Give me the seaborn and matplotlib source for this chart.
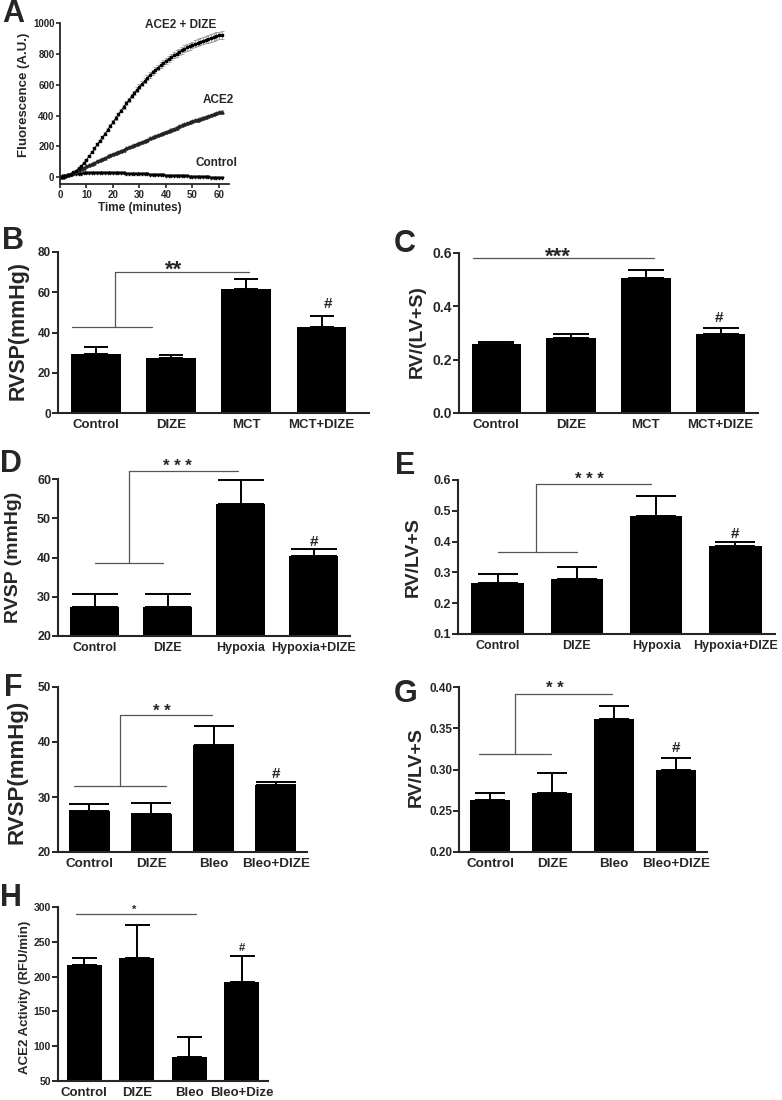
import numpy as np
import seaborn as sns
import matplotlib
matplotlib.use("Agg")
import matplotlib.pyplot as plt

sns.set_style("ticks")
plt.rcParams['font.family'] = ['Liberation Sans', 'DejaVu Sans']
plt.rcParams['font.weight'] = 'bold'

# ---- data: panel A, fluorescence kinetics ----
minutes = list(range(62))
ace2_dize = [0, 2, 6, 12, 20, 30, 42, 56, 72, 92, 114, 137, 161, 186, 212, 235,
             258, 283, 308, 333, 358, 383, 408, 432, 456, 480, 503, 526, 548, 569,
             589, 608, 627, 646, 664, 681, 697, 712, 727, 741, 755, 768, 780, 792,
             803, 814, 824, 834, 843, 851, 859, 866, 873, 880, 887, 893, 899, 905,
             911, 916, 921, 926]
ace2_dize_err = [0, 1, 1, 2, 2, 3, 3, 4, 4, 5, 5, 6, 6, 7, 7, 8, 8, 9, 9, 10, 10,
                 11, 11, 12, 12, 13, 13, 14, 14, 15, 15, 16, 16, 17, 17, 18, 18, 18,
                 19, 19, 19, 20, 20, 20, 21, 21, 21, 22, 22, 22, 22, 23, 23, 23, 23,
                 24, 24, 24, 25, 25, 25, 25]
ace2 = [0, 3, 7, 13, 20, 28, 36, 44, 52, 61, 70, 78, 86, 94, 102, 110, 118, 126,
        134, 142, 150, 157, 165, 172, 179, 186, 193, 200, 208, 215, 222, 229, 237,
        244, 251, 258, 266, 273, 280, 288, 295, 302, 309, 315, 322, 329, 336, 342,
        349, 355, 362, 368, 374, 380, 386, 392, 397, 403, 409, 414, 420, 425]
ace2_err = [0, 1, 1, 2, 2, 2, 3, 3, 3, 3, 4, 4, 4, 4, 4, 5, 5, 5, 5, 5, 5, 5, 5,
            6, 6, 6, 6, 6, 6, 6, 6, 6, 6, 6, 7, 7, 7, 7, 7, 7, 7, 7, 7, 7, 7, 7,
            7, 7, 8, 8, 8, 8, 8, 8, 8, 8, 8, 8, 8, 8, 8, 8]
control_curve = [0, 4, 8, 12, 15, 18, 20, 22, 23, 24, 25, 26, 26, 27, 27, 27, 27,
                 26, 26, 26, 25, 25, 25, 24, 24, 23, 22, 22, 21, 20, 19, 18, 18, 17,
                 16, 15, 14, 13, 12, 11, 10, 9, 8, 8, 7, 6, 5, 5, 4, 3, 3, 2, 1, 0,
                 0, -1, -2, -3, -3, -4, -5, -6]
control_err = [2] * 62

# ---- data: bar panels ----
mct_groups = ["Control", "DIZE", "MCT", "MCT+DIZE"]
mct_rvsp = [29.5, 27.5, 61.6, 42.7]
mct_rvsp_err = [3.3, 1.3, 5.1, 5.6]
mct_rv = [0.257, 0.280, 0.505, 0.296]
mct_rv_err = [0.010, 0.0175, 0.032, 0.024]

hyp_groups = ["Control", "DIZE", "Hypoxia", "Hypoxia+DIZE"]
hyp_rvsp = [27.4, 27.4, 53.6, 40.4]
hyp_rvsp_err = [3.4, 3.2, 6.2, 1.8]
hyp_rv = [0.265, 0.278, 0.484, 0.385]
hyp_rv_err = [0.029, 0.039, 0.063, 0.015]

bleo_groups = ["Control", "DIZE", "Bleo", "Bleo+DIZE"]
bleo_rvsp = [27.5, 27.0, 39.5, 32.1]
bleo_rvsp_err = [1.2, 1.9, 3.4, 0.7]
bleo_rv = [0.2625, 0.272, 0.361, 0.300]
bleo_rv_err = [0.0095, 0.024, 0.016, 0.014]

act_groups = ["Control", "DIZE", "Bleo", "Bleo+Dize"]
ace2_activity = [216.8, 226.9, 84.5, 192.0]
ace2_activity_err = [10.1, 47.3, 28.7, 37.3]

W, H = 782, 1100
fig = plt.figure(figsize=(W / 100, H / 100), dpi=100)


def add_ax(left, top, right, bottom):
    # pixel box -> figure fraction
    return fig.add_axes([left / W, 1 - bottom / H, (right - left) / W, (bottom - top) / H])


def ftext(x, y, s, **kw):
    fig.text(x / W, 1 - y / H, s, **kw)


def style_axes(ax, lw=1.5):
    sns.despine(ax=ax)
    for side in ("left", "bottom"):
        ax.spines[side].set_linewidth(lw)


def bar_panel(box, groups, vals, errs, ylim, yticks, ytick_fmt, tick_fs, cap,
              xmax=3.5, cat_fs=9.5, cat_pad=4):
    ax = add_ax(*box)
    sns.barplot(x=groups, y=vals, color="black", saturation=1, width=0.66,
                errorbar=None, linewidth=0, ax=ax)
    ax.errorbar(range(len(groups)), vals, yerr=[np.zeros(len(errs)), errs],
                fmt="none", ecolor="black", elinewidth=1.4, capsize=cap, capthick=1.4)
    ax.set_xlim(-0.5, xmax)
    ax.set_ylim(*ylim)
    ax.set_yticks(yticks)
    ax.set_yticklabels([ytick_fmt.format(v) for v in yticks])
    ax.tick_params(axis="y", length=4, width=1.4, labelsize=tick_fs, pad=1)
    ax.tick_params(axis="x", length=0, labelsize=cat_fs, pad=cat_pad)
    ax.set_xlabel("")
    ax.set_ylabel("")
    style_axes(ax)
    return ax


def sig(ax, segs, stars, sx, sy, s_fs, s_dy, hx, hy, h_fs=11):
    for (x0, x1, y0, y1) in segs:
        ax.plot([x0, x1], [y0, y1], color="#555555", lw=0.9, clip_on=False)
    ax.annotate(stars, (sx, sy), xytext=(0, s_dy + 2), textcoords="offset points",
                ha="center", va="baseline", fontsize=s_fs, annotation_clip=False)
    ax.text(hx, hy, "#", ha="center", va="baseline", fontsize=h_fs, clip_on=False)


# ---- panel A ----
axA = add_ax(60, 23.3, 229, 184)
axA.errorbar(minutes, control_curve, yerr=control_err, fmt="-v", ms=2, lw=0.6,
             color="black", ecolor="#999999", elinewidth=0.5, capsize=1, capthick=0.5)
axA.errorbar(minutes, ace2, yerr=ace2_err, fmt="-^", ms=2.2, lw=0.7, color="black",
             mfc="#333333", mec="#222222", ecolor="#aaaaaa", elinewidth=0.5,
             capsize=1.2, capthick=0.5)
axA.errorbar(minutes, ace2_dize, yerr=ace2_dize_err, fmt="-s", ms=1.8, lw=0.6,
             color="black", ecolor="#888888", elinewidth=0.5, capsize=1.5, capthick=0.5)
axA.set_xlim(0, 63.8)
axA.set_ylim(-45, 1000)
axA.set_xticks(range(0, 61, 10))
axA.set_yticks(range(0, 1001, 200))
axA.tick_params(length=3, width=1.2, labelsize=7, pad=1)
style_axes(axA, 1.3)
axA.text(45.7, 990, "ACE2 + DIZE", ha="center", va="center", fontsize=8.5, clip_on=False)
axA.text(59.6, 499, "ACE2", ha="center", va="center", fontsize=8.5)
axA.text(58.9, 89, "Control", ha="center", va="center", fontsize=8.5)
ftext(140, 208, "Time (minutes)", ha="center", va="center", fontsize=8.5)
ftext(24, 95, "Fluorescence (A.U.)", rotation=90, ha="center", va="center", fontsize=9.5)

# ---- panel B ----
axB = bar_panel((58, 252, 369, 413), mct_groups, mct_rvsp, mct_rvsp_err, (0, 80),
                [0, 20, 40, 60, 80], "{:.0f}", 8.5, 8.3, xmax=3.63)
sig(axB, [(0.26, 2.03, 70, 70), (0.26, 0.26, 70, 42.5), (-0.31, 0.75, 42.5, 42.5)],
    "**", 1.03, 70, 16, -4.4, 3.08, 52.0)
ftext(18, 330, "RVSP(mmHg)", rotation=90, ha="center", va="center", fontsize=15.5)

# ---- panel C ----
axC = bar_panel((459, 253, 758, 413), mct_groups, mct_rv, mct_rv_err, (0, 0.6),
                [0, 0.2, 0.4, 0.6], "{:.1f}", 10, 13)
sig(axC, [(-0.31, 2.11, 0.58, 0.58)], "***", 0.83, 0.58, 16, -5.0, 2.98, 0.342)
ftext(417, 332, "RV/(LV+S)", rotation=90, ha="center", va="center", fontsize=14)

# ---- panel D ----
axD = bar_panel((58, 479, 350, 636), hyp_groups, hyp_rvsp, hyp_rvsp_err, (20, 60),
                [20, 30, 40, 50, 60], "{:.0f}", 9, 16.5, cat_fs=9)
sig(axD, [(0.47, 1.97, 62, 62), (0.47, 0.47, 62, 38.5), (0.0, 0.94, 38.5, 38.5)],
    "* * *", 1.13, 62, 12, -1.6, 3.0, 42.9)
ftext(14, 557, "RVSP (mmHg)", rotation=90, ha="center", va="center", fontsize=14)

# ---- panel E ----
axE = bar_panel((458, 480, 775, 634), hyp_groups, hyp_rv, hyp_rv_err, (0.1, 0.6),
                [0.1, 0.2, 0.3, 0.4, 0.5, 0.6], "{:.1f}", 9, 14.4, cat_fs=9)
sig(axE, [(0.49, 1.93, 0.587, 0.587), (0.49, 0.49, 0.587, 0.365), (0.0, 1.0, 0.365, 0.365)],
    "* * *", 1.16, 0.587, 12, -2.3, 3.0, 0.411)
ftext(413, 557, "RV/LV+S", rotation=90, ha="center", va="center", fontsize=14)

# ---- panel F ----
axF = bar_panel((58, 687, 307, 852), bleo_groups, bleo_rvsp, bleo_rvsp_err, (20, 50),
                [20, 30, 40, 50], "{:.0f}", 8.5, 14.4, cat_fs=9.7)
sig(axF, [(0.49, 1.98, 44.9, 44.9), (0.49, 0.49, 44.9, 32.05), (-0.25, 1.23, 32.05, 32.05)],
    "* *", 1.17, 44.9, 12, -2.8, 3.0, 33.4)
ftext(17, 772, "RVSP(mmHg)", rotation=90, ha="center", va="center", fontsize=16)

# ---- panel G ----
axG = bar_panel((459, 687, 707, 852), bleo_groups, bleo_rv, bleo_rv_err, (0.2, 0.4),
                [0.20, 0.25, 0.30, 0.35, 0.40], "{:.2f}", 8.5, 11, cat_fs=9.7)
sig(axG, [(0.40, 1.97, 0.392, 0.392), (0.40, 0.40, 0.392, 0.3185), (-0.18, 0.99, 0.3185, 0.3185)],
    "* *", 1.05, 0.392, 12, -1.6, 3.0, 0.3217)
ftext(416, 767, "RV/LV+S", rotation=90, ha="center", va="center", fontsize=14)

# ---- panel H ----
axH = bar_panel((58, 907, 268, 1081), act_groups, ace2_activity, ace2_activity_err,
                (50, 300), [50, 100, 150, 200, 250, 300], "{:.0f}", 7.5, 9, cat_fs=9.5)
sig(axH, [(-0.15, 2.13, 290.4, 290.4)], "*", 0.96, 290.4, 8, -1.1, 3.0, 237.3, h_fs=8)
ftext(25, 997, "ACE2 Activity (RFU/min)", rotation=90, ha="center", va="center", fontsize=9.5)

# ---- panel letters ----
for letter, x, y in [("A", 13, 14), ("B", 13, 241), ("C", 405, 244), ("D", 11, 464),
                     ("E", 405, 466), ("F", 13, 688), ("G", 406, 694), ("H", 11, 898)]:
    ftext(x, y, letter, ha="center", va="center", fontsize=22, fontweight="bold")

fig.savefig("out.png", dpi=100)
